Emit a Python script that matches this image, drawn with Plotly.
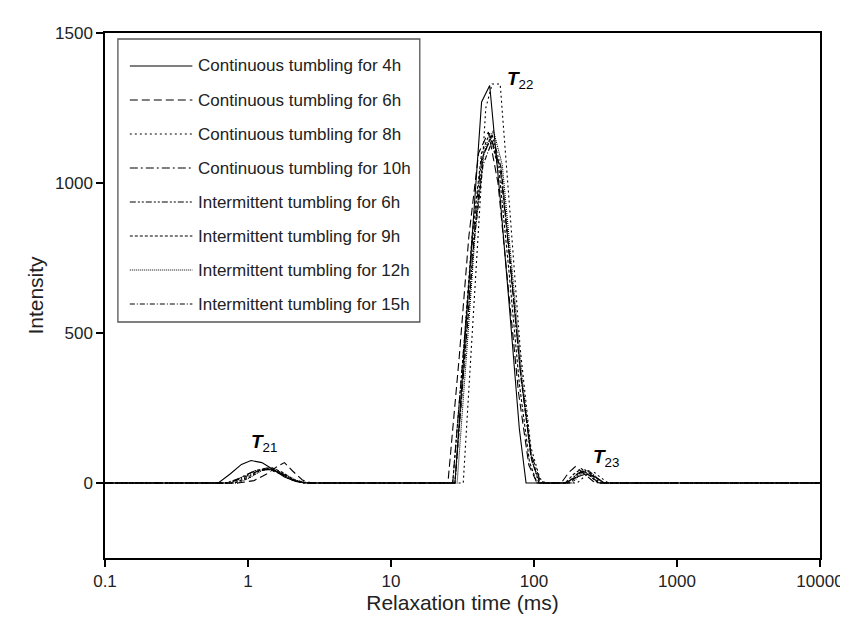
import math
import plotly.graph_objects as go

# ---- data (relaxation time in ms, intensity) ----
names = [
    "Continuous tumbling for 4h",
    "Continuous tumbling for 6h",
    "Continuous tumbling for 8h",
    "Continuous tumbling for 10h",
    "Intermittent tumbling for 6h",
    "Intermittent tumbling for 9h",
    "Intermittent tumbling for 12h",
    "Intermittent tumbling for 15h",
]

t_c4 = [0.1, 0.62, 0.75, 0.9, 1.05, 1.25, 1.5, 1.8, 2.2, 2.6,
        28, 33, 38, 43, 49, 58, 68, 79, 88,
        165, 195, 230, 270, 310, 10000]
i_c4 = [0, 0, 30, 62, 75, 68, 45, 20, 4, 0,
        0, 485, 907, 1270, 1325, 950, 560, 180, 0,
        0, 18, 30, 20, 0, 0]

t_c6 = [0.1, 0.85, 1.1, 1.35, 1.6, 1.8, 2.05, 2.4, 2.8,
        25, 30, 35, 41, 48, 56, 66, 78, 92, 105,
        155, 175, 195, 225, 260, 290, 10000]
i_c6 = [0, 0, 8, 30, 55, 68, 40, 10, 0,
        0, 420, 820, 1100, 1170, 1000, 650, 300, 60, 0,
        0, 35, 55, 30, 5, 0, 0]

t_c8 = [0.1, 0.8, 1.0, 1.2, 1.4, 1.65, 2.0, 2.4,
        32, 36, 41, 46, 51, 58, 68, 80, 95, 110, 120,
        200, 230, 260, 290, 330, 10000]
i_c8 = [0, 0, 15, 40, 48, 35, 12, 0,
        0, 400, 850, 1250, 1330, 1330, 900, 450, 120, 15, 0,
        0, 25, 38, 20, 0, 0]

t_c10 = [0.1, 0.75, 0.95, 1.15, 1.4, 1.7, 2.0, 2.5,
         27, 32, 37, 43, 50, 58, 68, 80, 95, 110, 118,
         175, 200, 225, 255, 290, 10000]
i_c10 = [0, 0, 25, 43, 45, 30, 10, 0,
         0, 420, 800, 1080, 1150, 1050, 740, 380, 100, 10, 0,
         0, 30, 45, 25, 0, 0]

t_i6 = [0.1, 0.7, 0.9, 1.1, 1.35, 1.6, 1.95, 2.4,
        28, 33, 38, 44, 51, 59, 69, 81, 95, 108,
        170, 195, 220, 250, 285, 10000]
i_i6 = [0, 0, 18, 40, 50, 40, 15, 0,
        0, 440, 820, 1090, 1160, 1050, 720, 360, 90, 0,
        0, 25, 40, 22, 0, 0]

t_i9 = [0.1, 0.8, 1.0, 1.2, 1.45, 1.75, 2.1, 2.6,
        27, 32, 37, 43, 49, 57, 67, 79, 93, 105,
        165, 190, 215, 245, 280, 10000]
i_i9 = [0, 0, 20, 42, 52, 35, 10, 0,
        0, 430, 830, 1100, 1165, 1040, 700, 330, 70, 0,
        0, 30, 48, 25, 0, 0]

t_i12 = [0.1, 0.85, 1.05, 1.25, 1.5, 1.8, 2.2, 2.7,
         29, 34, 39, 45, 52, 60, 70, 83, 97, 110,
         185, 210, 240, 270, 305, 10000]
i_i12 = [0, 0, 20, 42, 48, 30, 8, 0,
         0, 450, 850, 1110, 1175, 1060, 720, 340, 70, 0,
         0, 28, 42, 22, 0, 0]

t_i15 = [0.1, 0.75, 0.95, 1.15, 1.4, 1.7, 2.05, 2.5,
         28, 33, 38, 44, 51, 59, 69, 81, 96, 110,
         180, 205, 235, 265, 300, 10000]
i_i15 = [0, 0, 20, 38, 47, 33, 12, 0,
         0, 430, 800, 1060, 1140, 1040, 710, 350, 80, 0,
         0, 30, 44, 22, 0, 0]

x_ticks = [0.1, 1, 10, 100, 1000, 10000]
x_ticktext = ["0.1", "1", "10", "100", "1000", "10000"]
y_ticks = [0, 500, 1000, 1500]

peak_labels = ["21", "22", "23"]
peak_t = [1.3, 80, 320]
peak_i = [135, 1345, 85]

series_t = [t_c4, t_c6, t_c8, t_c10, t_i6, t_i9, t_i12, t_i15]
series_i = [i_c4, i_c6, i_c8, i_c10, i_i6, i_i9, i_i12, i_i15]

dashes = ["solid", "8px,4px", "2px,3px", "8px,3px,2px,3px",
          "6px,2px,2px,2px,2px,2px", "3px,2px", "1px,1px", "5px,2px,1px,2px"]

# ---- plot geometry (pixels) ----
W, H = 848, 621
ML, MR, MT, MB = 97, 31, 25, 71
PW, PH = W - ML - MR, H - MT - MB


def px(xp):
    return (xp - ML) / PW


def py(yp):
    return (H - MB - yp) / PH


fig = go.Figure()
for name, tx, iy, d in zip(names, series_t, series_i, dashes):
    fig.add_trace(go.Scatter(
        x=tx, y=iy, mode="lines", name=name, showlegend=False,
        line=dict(color="black", width=1.1, dash=d),
    ))

for lab, tx, iy in zip(peak_labels, peak_t, peak_i):
    fig.add_annotation(
        x=math.log10(tx), y=iy, xref="x", yref="y", showarrow=False,
        text="<b><i>T</i></b><sub>" + lab + "</sub>",
        font=dict(size=19, color="black", family="Liberation Sans, Arial"),
    )

# ---- legend box drawn as shapes + text ----
leg_left, leg_top, leg_right, leg_bottom = 110, 31, 414, 314
row0, drow = 58, 34
fig.add_shape(type="rect", xref="paper", yref="paper",
              x0=px(leg_left), x1=px(leg_right), y0=py(leg_bottom), y1=py(leg_top),
              line=dict(color="#555", width=1.3), fillcolor="white", layer="above")
for k, (name, d) in enumerate(zip(names, dashes)):
    yy = row0 + k * drow
    fig.add_shape(type="line", xref="paper", yref="paper",
                  x0=px(122), x1=px(185), y0=py(yy), y1=py(yy),
                  line=dict(color="black", width=1.1, dash=d), layer="above")
    fig.add_annotation(x=px(189), y=py(yy), xref="paper", yref="paper",
                       xanchor="left", yanchor="middle", showarrow=False,
                       text=name, font=dict(size=17, color="#222"))

fig.update_layout(
    width=W, height=H,
    margin=dict(l=ML, r=MR, t=MT, b=MB),
    paper_bgcolor="white", plot_bgcolor="white",
    font=dict(family="Liberation Sans, Arial", color="#222", size=17),
    showlegend=False,
)
fig.update_xaxes(
    type="log", range=[-1, 4],
    tickvals=x_ticks, ticktext=x_ticktext,
    showline=True, linecolor="black", linewidth=1.5, mirror=True,
    ticks="outside", ticklen=7, tickwidth=1.5, tickcolor="black",
    showgrid=False, zeroline=False,
    title=dict(text="Relaxation time (ms)", font=dict(size=21), standoff=4),
)
fig.update_yaxes(
    range=[-250, 1500],
    tickvals=y_ticks,
    showline=True, linecolor="black", linewidth=1.5, mirror=True,
    ticks="outside", ticklen=7, tickwidth=1.5, tickcolor="black",
    showgrid=False, zeroline=False,
    title=dict(text="Intensity", font=dict(size=21), standoff=6),
)

fig.write_html("out.html")
